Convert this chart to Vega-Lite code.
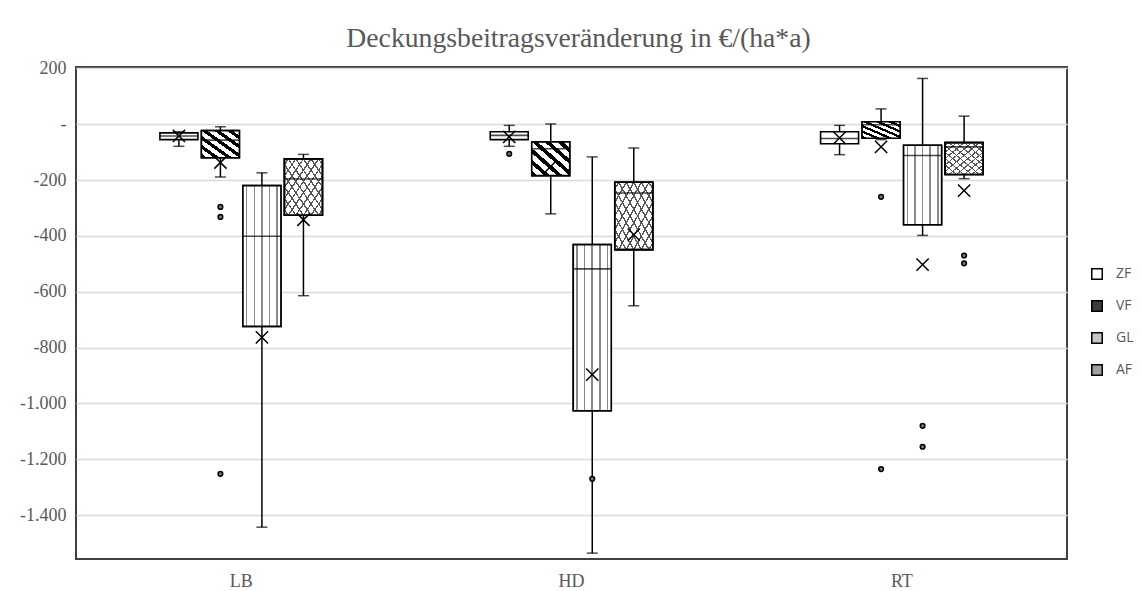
{
  "$schema": "https://vega.github.io/schema/vega-lite/v6.json",
  "width": 991,
  "height": 492,
  "autosize": "none",
  "padding": {"left": 76, "top": 67, "right": 75, "bottom": 32},
  "background": "white",
  "config": {
    "view": {"stroke": "#404040", "strokeWidth": 2},
    "axis": {"domain": false, "ticks": false, "labelFont": "Liberation Serif", "labelFontSize": 18, "labelColor": "#595959"}
  },
  "title": {
    "text": "Deckungsbeitragsveränderung in €/(ha*a)",
    "font": "Liberation Serif",
    "fontSize": 27.7,
    "fontWeight": "normal",
    "color": "#595959",
    "anchor": "middle",
    "frame": "group",
    "baseline": "alphabetic",
    "offset": 20,
    "dx": 7,
    "dy": 35
  },
  "datasets": {
    "boxes": [
      {"group": "LB", "series": "ZF", "lo": -79, "q1": -55, "med": -42, "q3": -31, "hi": -27, "mean": -42},
      {"group": "LB", "series": "VF", "lo": -189, "q1": -120, "med": -57, "q3": -23, "hi": -9, "mean": -137},
      {"group": "LB", "series": "GL", "lo": -1443, "q1": -724, "med": -401, "q3": -220, "hi": -174, "mean": -763},
      {"group": "LB", "series": "AF", "lo": -614, "q1": -326, "med": -196, "q3": -124, "hi": -108, "mean": -342},
      {"group": "HD", "series": "ZF", "lo": -79, "q1": -55, "med": -40, "q3": -27, "hi": -4, "mean": -45},
      {"group": "HD", "series": "VF", "lo": -321, "q1": -184, "med": -88, "q3": -63, "hi": 1, "mean": -151},
      {"group": "HD", "series": "GL", "lo": -1536, "q1": -1026, "med": -518, "q3": -431, "hi": -117, "mean": -897},
      {"group": "HD", "series": "AF", "lo": -650, "q1": -449, "med": -246, "q3": -208, "hi": -85, "mean": -395},
      {"group": "RT", "series": "ZF", "lo": -109, "q1": -70, "med": -51, "q3": -27, "hi": -4, "mean": -49},
      {"group": "RT", "series": "VF", "lo": -55, "q1": -50, "med": -2, "q3": 9, "hi": 55, "mean": -81},
      {"group": "RT", "series": "GL", "lo": -398, "q1": -360, "med": -112, "q3": -75, "hi": 164, "mean": -503},
      {"group": "RT", "series": "AF", "lo": -195, "q1": -180, "med": -81, "q3": -66, "hi": 29, "mean": -238}
    ],
    "outliers": [
      {"group": "LB", "series": "VF", "value": -296},
      {"group": "LB", "series": "VF", "value": -332},
      {"group": "LB", "series": "VF", "value": -1252},
      {"group": "HD", "series": "ZF", "value": -106},
      {"group": "HD", "series": "GL", "value": -1270},
      {"group": "RT", "series": "VF", "value": -260},
      {"group": "RT", "series": "VF", "value": -1235},
      {"group": "RT", "series": "GL", "value": -1080},
      {"group": "RT", "series": "GL", "value": -1155},
      {"group": "RT", "series": "AF", "value": -470},
      {"group": "RT", "series": "AF", "value": -498}
    ]
  },
  "encoding": {
    "x": {"field": "group", "type": "nominal", "scale": {"domain": ["LB", "HD", "RT"], "paddingInner": 0.508, "paddingOuter": 0.254}, "axis": {"title": null, "labelAngle": 0, "labelPadding": 13}},
    "xOffset": {"field": "series", "type": "nominal", "scale": {"domain": ["ZF", "VF", "GL", "AF"], "paddingInner": 0.085, "paddingOuter": 0}}
  },
  "layer": [
    {
      "data": {"name": "boxes"},
      "mark": {"type": "rule", "color": "#000", "strokeWidth": 1.5},
      "encoding": {
        "y": {"field": "lo", "type": "quantitative", "scale": {"domain": [-1557, 205], "nice": false, "zero": false}, "axis": {"title": null, "values": [200, 0, -200, -400, -600, -800, -1000, -1200, -1400], "grid": true, "gridColor": "#d9d9d9", "gridWidth": 1.3, "labelPadding": 10, "labelExpr": "datum.value == 0 ? '-' : replace(replace(format(datum.value, ','), ',', '.'), '\u2212', '-')"}},
        "y2": {"field": "hi"}
      }
    },
    {
      "data": {"name": "boxes"},
      "mark": {"type": "tick", "color": "#000", "thickness": 1.5, "size": 11},
      "encoding": {"y": {"field": "lo", "type": "quantitative"}}
    },
    {
      "data": {"name": "boxes"},
      "mark": {"type": "tick", "color": "#000", "thickness": 1.5, "size": 11},
      "encoding": {"y": {"field": "hi", "type": "quantitative"}}
    },
    {
      "data": {"name": "boxes"},
      "mark": {"type": "bar", "stroke": "#000", "strokeWidth": 1.6, "fillOpacity": 1},
      "encoding": {
        "y": {"field": "q1", "type": "quantitative"},
        "y2": {"field": "q3"},
        "fill": {
          "field": "series", "type": "nominal",
          "scale": {"domain": ["ZF", "VF", "GL", "AF"], "range": ["#ffffff", "#3c3c3c", "#c4c4c4", "#a0a0a0"]},
          "legend": {
            "orient": "none", "legendX": 1014, "legendY": 200, "title": null, "padding": 0,
            "symbolType": "square", "symbolSize": 110, "symbolStrokeColor": "#000", "symbolStrokeWidth": 1.5,
            "labelFont": "Open Sans", "labelFontSize": 14, "labelColor": "#595959", "labelOffset": 12, "rowPadding": 14,
            "encode": {"symbols": {"update": {
              "opacity": {"value": 1},
              "fillOpacity": {"value": 1},
              "strokeOpacity": {"value": 1},
              "stroke": {"value": "#000"},
              "strokeWidth": {"value": 1.5},
              "size": {"value": 110},
              "shape": {"value": "square"}
            }}}
          }
        }
      }
    },
    {
      "data": {"name": "boxes"},
      "transform": [{"filter": "datum.series == 'VF'"}],
      "mark": {"type": "bar", "stroke": "#000", "strokeWidth": 1.6, "fill": {"gradient": "linear", "x1": 0, "y1": 1, "x2": 1, "y2": 0, "stops": [
        {"offset": 0, "color": "#000"}, {"offset": 0.075, "color": "#000"}, {"offset": 0.075, "color": "#fff"}, {"offset": 0.1667, "color": "#fff"},
        {"offset": 0.1667, "color": "#000"}, {"offset": 0.2417, "color": "#000"}, {"offset": 0.2417, "color": "#fff"}, {"offset": 0.3333, "color": "#fff"},
        {"offset": 0.3333, "color": "#000"}, {"offset": 0.4083, "color": "#000"}, {"offset": 0.4083, "color": "#fff"}, {"offset": 0.5, "color": "#fff"},
        {"offset": 0.5, "color": "#000"}, {"offset": 0.575, "color": "#000"}, {"offset": 0.575, "color": "#fff"}, {"offset": 0.6667, "color": "#fff"},
        {"offset": 0.6667, "color": "#000"}, {"offset": 0.7417, "color": "#000"}, {"offset": 0.7417, "color": "#fff"}, {"offset": 0.8333, "color": "#fff"},
        {"offset": 0.8333, "color": "#000"}, {"offset": 0.9083, "color": "#000"}, {"offset": 0.9083, "color": "#fff"}, {"offset": 1, "color": "#fff"}
      ]}},
      "encoding": {"y": {"field": "q1", "type": "quantitative"}, "y2": {"field": "q3"}}
    },
    {
      "data": {"name": "boxes"},
      "transform": [{"filter": "datum.series == 'GL'"}],
      "mark": {"type": "bar", "stroke": "#000", "strokeWidth": 1.6, "fill": {"gradient": "linear", "x1": 0, "y1": 0, "x2": 1, "y2": 0, "stops": [
        {"offset": 0, "color": "#fff"}, {"offset": 0.08, "color": "#fff"}, {"offset": 0.08, "color": "#8a8a8a"}, {"offset": 0.12, "color": "#8a8a8a"}, {"offset": 0.12, "color": "#fff"},
        {"offset": 0.28, "color": "#fff"}, {"offset": 0.28, "color": "#8a8a8a"}, {"offset": 0.32, "color": "#8a8a8a"}, {"offset": 0.32, "color": "#fff"},
        {"offset": 0.48, "color": "#fff"}, {"offset": 0.48, "color": "#8a8a8a"}, {"offset": 0.52, "color": "#8a8a8a"}, {"offset": 0.52, "color": "#fff"},
        {"offset": 0.68, "color": "#fff"}, {"offset": 0.68, "color": "#8a8a8a"}, {"offset": 0.72, "color": "#8a8a8a"}, {"offset": 0.72, "color": "#fff"},
        {"offset": 0.88, "color": "#fff"}, {"offset": 0.88, "color": "#8a8a8a"}, {"offset": 0.92, "color": "#8a8a8a"}, {"offset": 0.92, "color": "#fff"},
        {"offset": 1, "color": "#fff"}
      ]}},
      "encoding": {"y": {"field": "q1", "type": "quantitative"}, "y2": {"field": "q3"}}
    },
    {
      "data": {"name": "boxes"},
      "transform": [{"filter": "datum.series == 'AF'"}],
      "mark": {"type": "bar", "stroke": "#000", "strokeWidth": 1.6, "fill": {"gradient": "linear", "x1": 0, "y1": 0, "x2": 1, "y2": 1, "stops": [
        {"offset": 0, "color": "#fff"}, {"offset": 0.04, "color": "#fff"}, {"offset": 0.04, "color": "#555"}, {"offset": 0.06, "color": "#555"}, {"offset": 0.06, "color": "#fff"},
        {"offset": 0.14, "color": "#fff"}, {"offset": 0.14, "color": "#555"}, {"offset": 0.16, "color": "#555"}, {"offset": 0.16, "color": "#fff"},
        {"offset": 0.24, "color": "#fff"}, {"offset": 0.24, "color": "#555"}, {"offset": 0.26, "color": "#555"}, {"offset": 0.26, "color": "#fff"},
        {"offset": 0.34, "color": "#fff"}, {"offset": 0.34, "color": "#555"}, {"offset": 0.36, "color": "#555"}, {"offset": 0.36, "color": "#fff"},
        {"offset": 0.44, "color": "#fff"}, {"offset": 0.44, "color": "#555"}, {"offset": 0.46, "color": "#555"}, {"offset": 0.46, "color": "#fff"},
        {"offset": 0.54, "color": "#fff"}, {"offset": 0.54, "color": "#555"}, {"offset": 0.56, "color": "#555"}, {"offset": 0.56, "color": "#fff"},
        {"offset": 0.64, "color": "#fff"}, {"offset": 0.64, "color": "#555"}, {"offset": 0.66, "color": "#555"}, {"offset": 0.66, "color": "#fff"},
        {"offset": 0.74, "color": "#fff"}, {"offset": 0.74, "color": "#555"}, {"offset": 0.76, "color": "#555"}, {"offset": 0.76, "color": "#fff"},
        {"offset": 0.84, "color": "#fff"}, {"offset": 0.84, "color": "#555"}, {"offset": 0.86, "color": "#555"}, {"offset": 0.86, "color": "#fff"},
        {"offset": 0.94, "color": "#fff"}, {"offset": 0.94, "color": "#555"}, {"offset": 0.96, "color": "#555"}, {"offset": 0.96, "color": "#fff"},
        {"offset": 1, "color": "#fff"}
      ]}},
      "encoding": {"y": {"field": "q1", "type": "quantitative"}, "y2": {"field": "q3"}}
    },
    {
      "data": {"name": "boxes"},
      "transform": [{"filter": "datum.series == 'AF'"}],
      "mark": {"type": "bar", "stroke": "#000", "strokeWidth": 1.6, "fill": {"gradient": "linear", "x1": 0, "y1": 1, "x2": 1, "y2": 0, "stops": [
        {"offset": 0, "color": "rgba(255,255,255,0)"}, {"offset": 0.04, "color": "rgba(255,255,255,0)"}, {"offset": 0.04, "color": "#555"}, {"offset": 0.06, "color": "#555"}, {"offset": 0.06, "color": "rgba(255,255,255,0)"},
        {"offset": 0.14, "color": "rgba(255,255,255,0)"}, {"offset": 0.14, "color": "#555"}, {"offset": 0.16, "color": "#555"}, {"offset": 0.16, "color": "rgba(255,255,255,0)"},
        {"offset": 0.24, "color": "rgba(255,255,255,0)"}, {"offset": 0.24, "color": "#555"}, {"offset": 0.26, "color": "#555"}, {"offset": 0.26, "color": "rgba(255,255,255,0)"},
        {"offset": 0.34, "color": "rgba(255,255,255,0)"}, {"offset": 0.34, "color": "#555"}, {"offset": 0.36, "color": "#555"}, {"offset": 0.36, "color": "rgba(255,255,255,0)"},
        {"offset": 0.44, "color": "rgba(255,255,255,0)"}, {"offset": 0.44, "color": "#555"}, {"offset": 0.46, "color": "#555"}, {"offset": 0.46, "color": "rgba(255,255,255,0)"},
        {"offset": 0.54, "color": "rgba(255,255,255,0)"}, {"offset": 0.54, "color": "#555"}, {"offset": 0.56, "color": "#555"}, {"offset": 0.56, "color": "rgba(255,255,255,0)"},
        {"offset": 0.64, "color": "rgba(255,255,255,0)"}, {"offset": 0.64, "color": "#555"}, {"offset": 0.66, "color": "#555"}, {"offset": 0.66, "color": "rgba(255,255,255,0)"},
        {"offset": 0.74, "color": "rgba(255,255,255,0)"}, {"offset": 0.74, "color": "#555"}, {"offset": 0.76, "color": "#555"}, {"offset": 0.76, "color": "rgba(255,255,255,0)"},
        {"offset": 0.84, "color": "rgba(255,255,255,0)"}, {"offset": 0.84, "color": "#555"}, {"offset": 0.86, "color": "#555"}, {"offset": 0.86, "color": "rgba(255,255,255,0)"},
        {"offset": 0.94, "color": "rgba(255,255,255,0)"}, {"offset": 0.94, "color": "#555"}, {"offset": 0.96, "color": "#555"}, {"offset": 0.96, "color": "rgba(255,255,255,0)"},
        {"offset": 1, "color": "rgba(255,255,255,0)"}
      ]}},
      "encoding": {"y": {"field": "q1", "type": "quantitative"}, "y2": {"field": "q3"}}
    },
    {
      "data": {"name": "boxes"},
      "mark": {"type": "tick", "color": "#000", "thickness": 1.6, "size": 38},
      "encoding": {"y": {"field": "med", "type": "quantitative"}}
    },
    {
      "data": {"name": "boxes"},
      "mark": {"type": "point", "shape": "M-1,-1L1,1M-1,1L1,-1", "filled": false, "stroke": "#000", "strokeWidth": 1.5, "size": 150, "opacity": 1},
      "encoding": {"y": {"field": "mean", "type": "quantitative"}}
    },
    {
      "data": {"name": "outliers"},
      "mark": {"type": "point", "shape": "circle", "filled": true, "fill": "#777", "stroke": "#000", "strokeWidth": 1.5, "size": 22, "opacity": 1},
      "encoding": {"y": {"field": "value", "type": "quantitative"}}
    }
  ]
}
